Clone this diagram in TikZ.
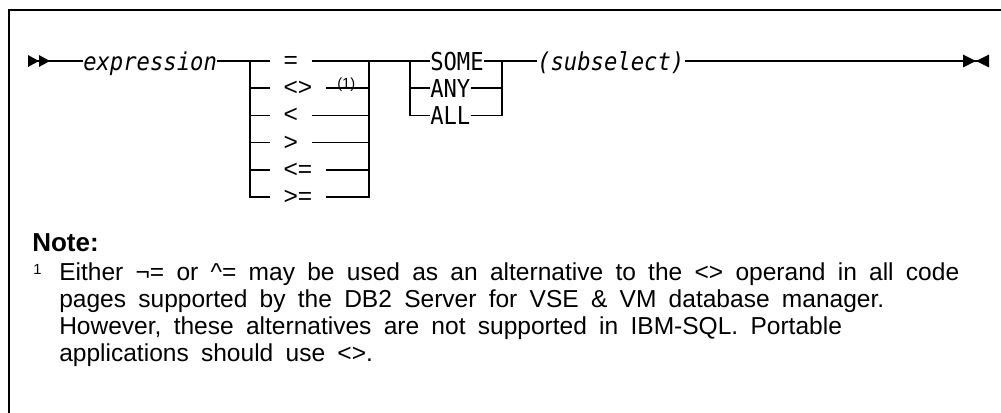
\documentclass[tikz,border=0pt]{standalone}
\usepackage{fontspec}
\setmainfont{Liberation Sans}
\newfontfamily\railfont[FakeStretch=0.9]{DejaVu Sans Mono}
\newfontfamily\notefont[WordSpace=1.8]{Liberation Sans}
\usetikzlibrary{arrows.meta}

\begin{document}
\begin{tikzpicture}[x=0.75pt, y=-0.75pt,
  rail/.style={draw=black, line width=1.1pt},
  frame/.style={draw=black, line width=1.5pt},
  kw/.style={font=\railfont\fontsize{18.5}{20}\selectfont, inner sep=0pt, text height=14pt, text depth=0pt, anchor=west},
  var/.style={kw, font=\railfont\itshape\fontsize{18.5}{20}\selectfont},
  op/.style={font=\fontsize{18.4}{20}\selectfont, inner xsep=10pt, inner ysep=0pt, text height=11.25pt, text depth=0pt, anchor=west},
  ref/.style={font=\fontsize{11}{12}\selectfont, inner sep=0pt, anchor=base west},
  notetext/.style={font=\notefont\fontsize{18.4}{20}\selectfont, inner sep=0pt, anchor=base west},
  railin/.tip={Triangle[reversed, length=8.25pt, width=8.6pt, sep=0pt]},
  railout/.tip={Triangle[length=9.75pt, width=9.3pt, sep=0pt]},
  railend/.tip={Triangle[reversed, length=9.75pt, width=9.3pt, sep=0pt]}]
\useasboundingbox (0,0) rectangle (1001,413);
\draw[frame] (1001,10) -- (9,10) -- (9,413);
\coordinate (begin) at (28,61);
\coordinate (finish) at (989,61);
\coordinate (split) at (250,61);
\coordinate (merge) at (369,61);
\coordinate (pick) at (410,61);
\coordinate (join) at (502,61);
\node[var] (expr) at (83,61) {expression};
\node[op] (eq) at (270,61) {=};
\node[op] (ne) at (270,88.2) {<>};
\node[op] (lt) at (270,115.4) {<};
\node[op] (gt) at (270,142.6) {>};
\node[op] (le) at (270,169.8) {<=};
\node[op] (ge) at (270,197) {>=};
\node[ref] (fn) at (337,89) {(1)};
\node[kw] (some) at (430,61) {SOME};
\node[kw] (any) at (430,88.2) {ANY};
\node[kw] (all) at (430,115.4) {ALL};
\node[var] (subsel) at (537,61) {(subselect)};
\draw[rail, {railin[]railin[]}-] (begin) -- (expr.west);
\draw[rail] (expr.east) -- (eq.west);
\draw[rail] (split) |- (ge.west);
\draw[rail] (split |- ne.west) -- (ne.west);
\draw[rail] (split |- lt.west) -- (lt.west);
\draw[rail] (split |- gt.west) -- (gt.west);
\draw[rail] (split |- le.west) -- (le.west);
\draw[rail] (eq.east) -- (some.west);
\draw[rail] (ne.east) -- (merge |- ne.east);
\draw[rail] (lt.east) -- (merge |- lt.east);
\draw[rail] (gt.east) -- (merge |- gt.east);
\draw[rail] (le.east) -- (merge |- le.east);
\draw[rail] (ge.east) -| (merge);
\draw[rail] (pick) |- (all.west);
\draw[rail] (pick |- any.west) -- (any.west);
\draw[rail] (any.east) -- (join |- any.east);
\draw[rail] (all.east) -| (join);
\draw[rail] (some.east) -- (subsel.west);
\draw[rail, -{railout[]railend[]}] (subsel.east) -- (finish);
\node[notetext, font=\bfseries\fontsize{19.5}{22}\selectfont] (notehead) at (32,251.7) {Note:};
\node[ref] (fnnum) at (33,275) {1};
\node[notetext] (line1) at (59,281) {Either ¬= or \textasciicircum= may be used as an alternative to the <> operand in all code};
\node[notetext] (line2) at (59,308) {pages supported by the DB2 Server for VSE \& VM database manager.};
\node[notetext] (line3) at (59,335) {However, these alternatives are not supported in IBM-SQL. Portable};
\node[notetext] (line4) at (59,362) {applications should use <>.};
\end{tikzpicture}
\end{document}
